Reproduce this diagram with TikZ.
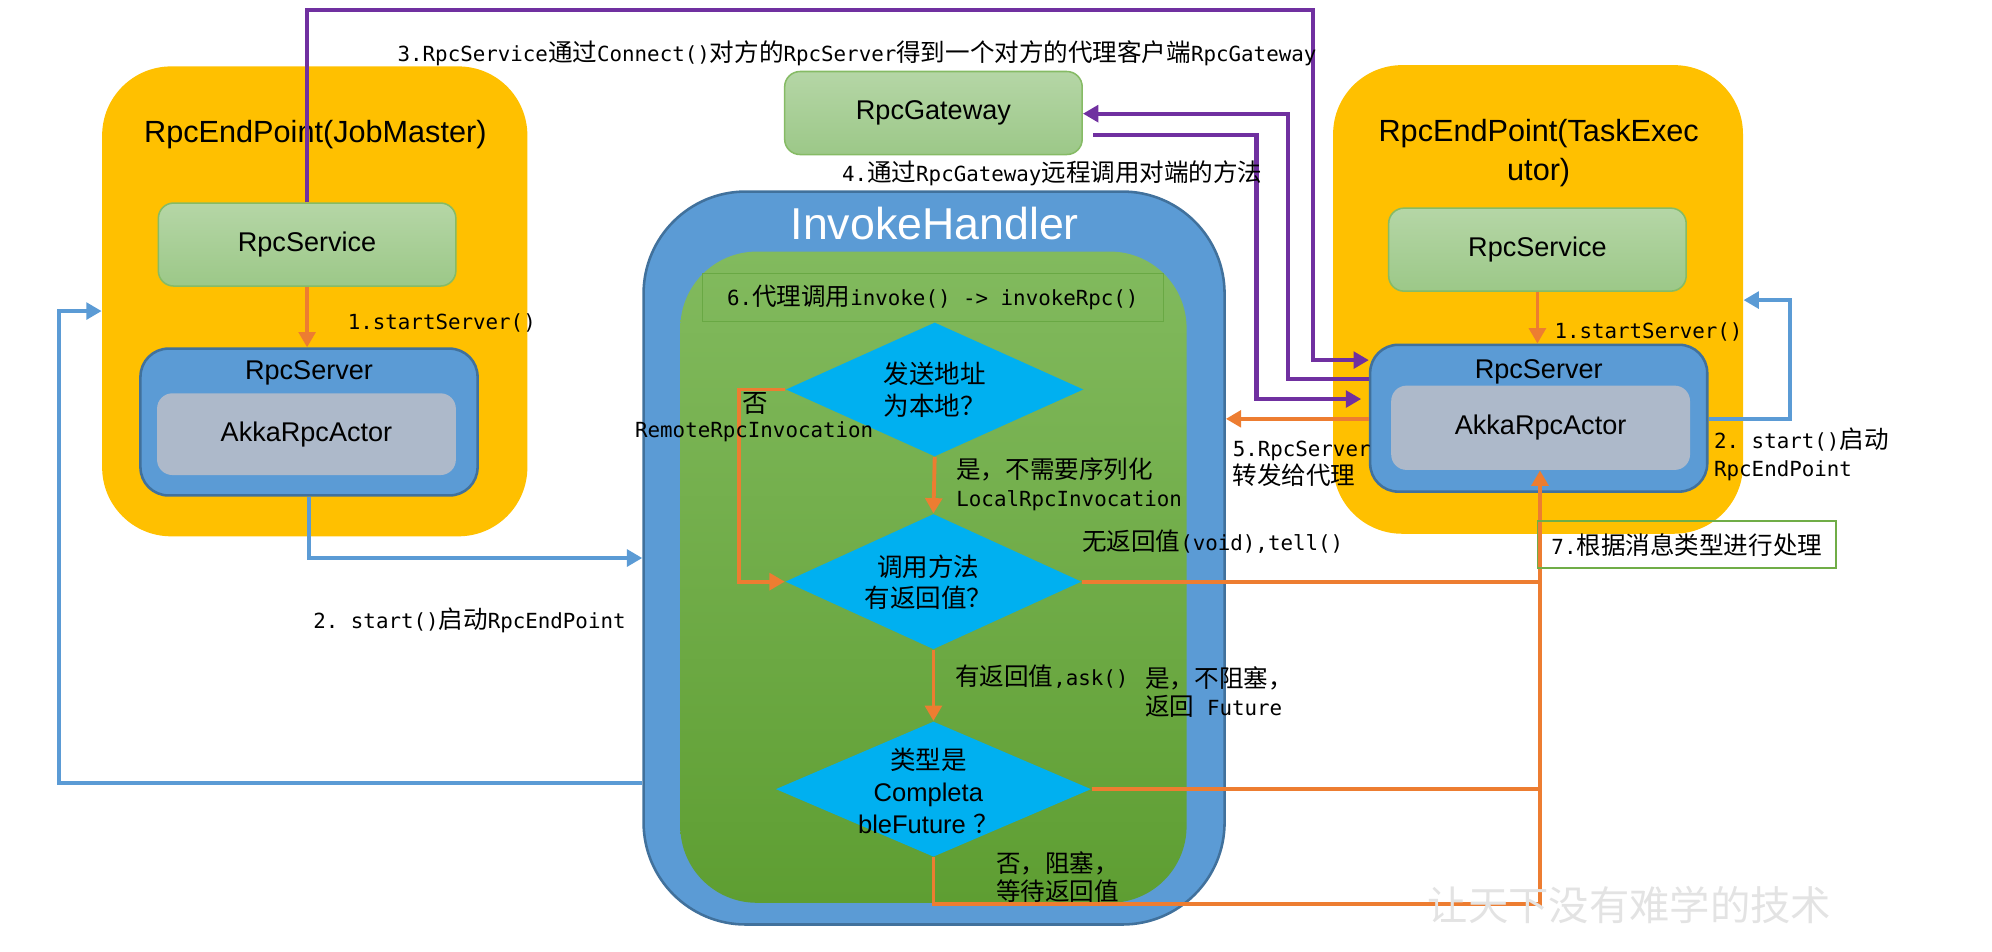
\documentclass[tikz,border=0pt]{standalone}
\usepackage{fontspec}
\setmainfont{Liberation Sans}
\setmonofont{DejaVu Sans Mono}
\newfontfamily\zh{Noto Sans CJK SC}
\newfontfamily\zhm{Noto Sans CJK SC}[Scale=1.18]
\usetikzlibrary{arrows.meta,shapes.geometric}

\definecolor{epyellow}{HTML}{FFC000}
\definecolor{srvblue}{HTML}{5B9BD5}
\definecolor{srvedge}{HTML}{41719C}
\definecolor{actorgray}{HTML}{ADB9CA}
\definecolor{svctop}{HTML}{B5D6A6}
\definecolor{svcbot}{HTML}{9CC888}
\definecolor{svcedge}{HTML}{86BB65}
\definecolor{ihtop}{HTML}{82BA5E}
\definecolor{ihbot}{HTML}{5E9E32}
\definecolor{stepedge}{HTML}{69A844}
\definecolor{stepgreen}{HTML}{70AD47}
\definecolor{decblue}{HTML}{00B0F0}
\definecolor{callorange}{HTML}{ED7D31}
\definecolor{proxypurple}{HTML}{7030A0}

\newcommand{\zhpart}[1]{{\zhm #1}}
\newcommand{\lblfont}{\fontsize{8.15}{11}\selectfont\ttfamily}

\begin{document}
\begin{tikzpicture}[x=0.5pt,y=-0.5pt,
  endpoint/.style={fill=epyellow,rounded corners=27pt,inner sep=0pt},
  eptitle/.style={font=\fontsize{12}{15.5}\selectfont},
  boxtext/.style={font=\fontsize{10.6}{12}\selectfont},
  svcbox/.style={boxtext,top color=svctop,bottom color=svcbot,draw=svcedge,line width=0.6pt,
    rounded corners=6pt,minimum width=116.5pt,minimum height=32.5pt},
  srvbox/.style={fill=srvblue,draw=srvedge,line width=1pt,rounded corners=11pt,
    minimum width=132pt,minimum height=57.5pt},
  actorbox/.style={boxtext,fill=actorgray,rounded corners=6pt,minimum width=117pt,minimum height=32pt},
  decision/.style={diamond,fill=decblue,inner sep=0pt},
  dtext/.style={align=center,font=\fontsize{10}{12.4}\zh},
  stepnote/.style={anchor=west,inner sep=1pt,font=\lblfont},
  flow/.style={draw=callorange,line width=1.5pt,-{Triangle[length=6pt,width=6.5pt]}},
  proxy/.style={draw=proxypurple,line width=1.6pt,-{Triangle[length=6pt,width=6.5pt]}},
  boot/.style={draw=srvblue,line width=1.6pt,-{Triangle[length=6pt,width=6.5pt]}}]
\useasboundingbox (0,0) rectangle (1560,745.5);

% JobMaster side
\node[endpoint,minimum width=166.5pt,minimum height=184pt] (jm) at (246.5,236) {};
\node[eptitle] (jmtitle) at (247,105) {RpcEndPoint(JobMaster)};
\node[svcbox] (jmsvc) at (240.5,191.5) {RpcService};
\node[srvbox] (jmsrv) at (242,330.5) {};
\node[boxtext] (jmsrvname) at (242,292) {RpcServer};
\node[actorbox] (jmakka) at (240,340) {AkkaRpcActor};

% TaskExecutor side
\node[endpoint,minimum width=160.5pt,minimum height=183.5pt] (te) at (1204.5,234.5) {};
\node[eptitle,align=center] (tetitle) at (1205,120) {RpcEndPoint(TaskExec\\utor)};
\node[svcbox] (tesvc) at (1204,195.5) {RpcService};
\node[srvbox] (tesrv) at (1205,327.5) {};
\node[boxtext] (tesrvname) at (1205,291) {RpcServer};
\node[actorbox,minimum height=33pt] (teakka) at (1206.5,335) {AkkaRpcActor};

\node[svcbox] (gw) at (731,88.5) {RpcGateway};

% InvokeHandler
\node[fill=srvblue,draw=srvedge,line width=1pt,rounded corners=40pt,
  minimum width=227.5pt,minimum height=287pt] (ih) at (731.5,437) {};
\node[text=white,font=\fontsize{17.5}{20}\selectfont] (ihtitle) at (732,175) {InvokeHandler};
\node[top color=ihtop,bottom color=ihbot,rounded corners=30pt,
  minimum width=198.25pt,minimum height=255pt] (ihin) at (731,452) {};
\node[draw=stepedge,line width=0.5pt,minimum width=180.5pt,minimum height=19pt,font=\lblfont]
  (invk) at (730.5,233) {6.\zhpart{代理调用}invoke() -> invokeRpc()};

\node[decision,minimum width=116.5pt,minimum height=52.5pt] (d1) at (732,305) {};
\node[dtext] (d1t) at (d1) {发送地址\\为本地？};
\node[decision,minimum width=116pt,minimum height=53pt] (d2) at (731,455.5) {};
\node[dtext] (d2t) at (727,456) {调用方法\\有返回值？};
\node[decision,minimum width=123.5pt,minimum height=53pt] (d3) at (731,618) {};
\node[dtext] (d3t) at (727,619.5) {类型是\\{\rmfamily Completa}\\{\rmfamily bleFuture\ }？};

% connectors
\coordinate (pa) at (1028,8);
\coordinate (pa2) at (1028,282);
\coordinate (pb1) at (1009,89);
\coordinate (pb2) at (1009,297);
\coordinate (pc1) at (984,106);
\coordinate (pc2) at (984,312.5);
\coordinate (lp1) at (46,613);
\coordinate (lp2) at (46,243.6);
\coordinate (rp1) at (1402,328);
\coordinate (rp2) at (1402,235);
\coordinate (nb1) at (578.6,305);
\coordinate (ov1) at (1206,708);

\draw[flow] (jmsvc.south) -- (jmsvc.south |- jmsrv.north);
\draw[flow] (tesvc.south) -- (tesvc.south |- tesrv.north);
\draw[boot] (jmsrv.south) |- (ih.west);
\draw[boot] (ih.west |- lp1) -- (lp1) -- (lp2) -- (jm.west |- lp2);
\draw[boot] (tesrv.east |- rp1) -- (rp1) -- (rp2) -- (te.east |- rp2);
\draw[proxy] (jmsvc.north) -- (jmsvc.north |- pa) -- (pa) -- (pa2) -- (tesrv.west |- pa2);
\draw[proxy] (tesrv.west |- pb2) -- (pb2) -- (pb1) -- (gw.east |- pb1);
\draw[proxy] ([xshift=4pt]gw.east |- pc1) -- (pc1) -- (pc2) -- ([xshift=-3pt]tesrv.west |- pc2);
\draw[flow] (tesrv.west |- rp1) -- (ih.east |- rp1);

\draw[flow] (d1.south) -- (d2.north);
\draw[flow] (d1.west) -- (nb1) |- (d2.west);
\draw[flow] (d2.south) -- (d3.north);
\draw[flow,-] (d2.east) -- (d2.east -| ov1);
\draw[flow,-] (d3.east) -- (d3.east -| ov1);
\draw[flow] (d3.south) |- (ov1) -- (ov1 |- teakka.south);

% step labels
\node[stepnote] (step3) at (309,42) {3.RpcService\zhpart{通过}Connect()\zhpart{对方的}RpcServer\zhpart{得到一个对方的代理客户端}RpcGateway};
\node[stepnote] (step4) at (657,136) {4.\zhpart{通过}RpcGateway\zhpart{远程调用对端的方法}};
\node[stepnote] (step1l) at (270,253) {1.startServer()};
\node[stepnote] (step2l) at (243,486) {2. start()\zhpart{启动}RpcEndPoint};
\node[stepnote] (step1r) at (1215,260) {1.startServer()};
\node[stepnote,align=left] (step2r) at (1340,355.5) {2. start()\zhpart{启动}\\RpcEndPoint};
\node[stepnote,align=left] (step5) at (963,363) {5.RpcServer\\\zhpart{转发给代理}};
\node[stepnote,anchor=center,draw=stepgreen,line width=0.6pt,minimum width=117pt,minimum height=18.5pt]
  (step7) at (1321,426.5) {7.\zhpart{根据消息类型进行处理}};
\node[stepnote] (remote) at (495,338) {RemoteRpcInvocation};
\node[stepnote,font=\fontsize{10}{12}\zh] (no1) at (579,316) {否};
\node[stepnote,align=left] (local) at (746.6,379) {\zhpart{是，不需要序列化}\\LocalRpcInvocation};
\node[stepnote] (tell) at (845,424) {\zhpart{无返回值}(void),tell()};
\node[stepnote] (ask) at (745.5,530) {\zhpart{有返回值},ask()};
\node[stepnote,align=left] (future) at (894.6,542) {\zhpart{是，不阻塞，}\\\zhpart{返回} Future};
\node[stepnote,align=left] (block) at (777.6,687) {\zhpart{否，阻塞，}\\\zhpart{等待返回值}};
\node[anchor=west,text=gray!22,font=\fontsize{15.8}{18}\zh] (motto) at (1111,709) {让天下没有难学的技术};
\end{tikzpicture}
\end{document}
